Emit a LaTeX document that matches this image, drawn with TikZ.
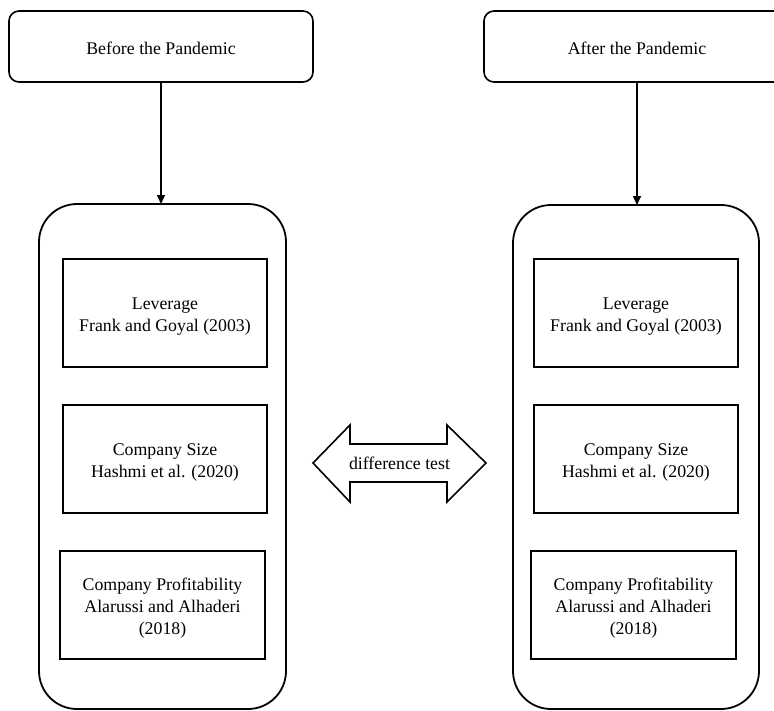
\documentclass[tikz,border=0pt]{standalone}
\usepackage{fontspec}
\setmainfont{Liberation Serif}
\usetikzlibrary{arrows.meta}
\begin{document}
\begin{tikzpicture}[x=1pt,y=-1pt,
  every node/.style={font=\fontsize{17.8}{22}\selectfont},
  topbox/.style={draw, line width=1.6pt, rounded corners=10pt, minimum width=304pt, minimum height=71pt, inner sep=0pt, outer sep=0pt},
  outerbox/.style={draw, line width=1.8pt, rounded corners=38pt, minimum width=247pt, minimum height=505pt, inner sep=0pt, outer sep=0pt},
  innerbox/.style={draw, line width=1.8pt, minimum width=204pt, minimum height=108pt, inner sep=0pt, outer sep=0pt},
  boxtext/.style={align=center, yshift=-3.5pt},
  flow/.style={line width=1.5pt, -{Triangle[length=9pt,width=8pt]}},
  bigarrow/.style={draw, line width=1.6pt, line join=miter}
]
\useasboundingbox (0,0) rectangle (774,710);
\clip (0,0) rectangle (774,710);

% top boxes
\node[topbox, label={[yshift=-1.5pt]center:Before the Pandemic}] (topL) at (161,46.5) {};
\node[topbox, minimum width=306pt, label={[yshift=-1.5pt]center:After the Pandemic}] (topR) at (637,46.5) {};

% outer containers
\node[outerbox] (outL) at (162.5,456.5) {};
\node[outerbox, minimum width=246pt, minimum height=504pt] (outR) at (636,457) {};

% inner boxes left
\node[innerbox, label={[boxtext]center:Leverage\\Frank and Goyal (2003)}] (levL) at (165,313) {};
\node[innerbox, label={[boxtext]center:Company Size\\Hashmi et al. (2020)}] (sizeL) at (165,459) {};
\node[innerbox, minimum width=205pt, label={[boxtext]center:Company Profitability\\Alarussi and Alhaderi\\(2018)}] (profL) at (162.5,605) {};

% inner boxes right
\node[innerbox, label={[boxtext]center:Leverage\\Frank and Goyal (2003)}] (levR) at (636,313) {};
\node[innerbox, label={[boxtext]center:Company Size\\Hashmi et al. (2020)}] (sizeR) at (636,459) {};
\node[innerbox, minimum width=205pt, label={[boxtext]center:Company Profitability\\Alarussi and Alhaderi\\(2018)}] (profR) at (633.5,605) {};

% connectors
\draw[flow] (topL.south) -- (topL.south |- outL.north);
\draw[flow] (topR.south) -- (topR.south |- outR.north);

% double arrow
\draw[bigarrow] (313,463) -- (350,425) -- (350,444) -- (447,444) -- (447,425) -- (486,463)
  -- (447,502) -- (447,482) -- (350,482) -- (350,502) -- cycle;
\node (diff) at (399.5,463.5) {difference test};
\end{tikzpicture}
\end{document}
